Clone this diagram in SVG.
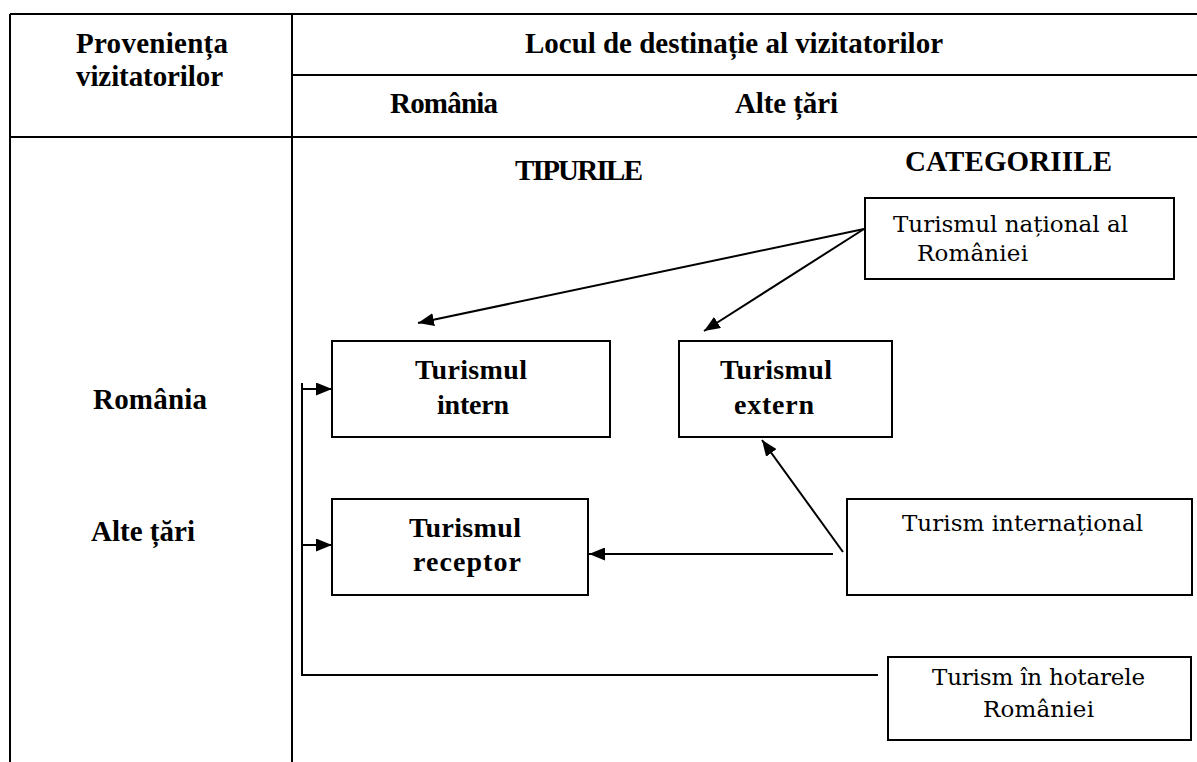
<svg xmlns="http://www.w3.org/2000/svg" width="1197" height="762" viewBox="0 0 1197 762">
<defs>
<style>
.ln{stroke:#000;stroke-width:2;fill:none}
.bx{stroke:#000;stroke-width:2;fill:#fff}
.hb{font-family:"Liberation Serif","Times New Roman",serif;font-weight:bold;font-size:29px;fill:#000}
.nb{font-family:"Liberation Serif","Times New Roman",serif;font-weight:bold;font-size:28px;fill:#000;text-anchor:middle}
.rg{font-family:"DejaVu Serif","Liberation Serif",serif;font-size:23px;fill:#000}
.cn{stroke:#000;stroke-width:2;fill:none}
</style>
<marker id="ah" viewBox="0 0 16 13" refX="16" refY="6.5" markerWidth="16" markerHeight="13" markerUnits="userSpaceOnUse" orient="auto">
<path d="M0,0 L16,6.5 L0,13 z" fill="#000"/>
</marker>
</defs>
<rect width="1197" height="762" fill="#fff"/>
<g id="table">
<line class="ln" x1="10" y1="14" x2="1197" y2="14"/>
<line class="ln" x1="10" y1="14" x2="10" y2="762"/>
<line class="ln" x1="292" y1="14" x2="292" y2="762"/>
<line class="ln" x1="292" y1="75" x2="1197" y2="75"/>
<line class="ln" x1="10" y1="137" x2="1197" y2="137"/>
<text class="hb" x="76" y="53" textLength="152">Proveniența</text>
<text class="hb" x="76" y="86" textLength="147">vizitatorilor</text>
<text class="hb" x="525" y="53" textLength="418">Locul de destinație al vizitatorilor</text>
<text class="hb" x="390" y="113" textLength="108">România</text>
<text class="hb" x="735" y="113" textLength="103">Alte țări</text>
<text class="hb" x="515" y="180" textLength="128">TIPURILE</text>
<text class="hb" x="905" y="171" textLength="207">CATEGORIILE</text>
<text class="hb" x="93" y="409" textLength="114">România</text>
<text class="hb" x="91" y="541" textLength="104">Alte țări</text>
</g>
<g id="connectors">
<line class="cn" x1="864" y1="229" x2="418" y2="323" marker-end="url(#ah)"/>
<line class="cn" x1="864" y1="229" x2="704" y2="331" marker-end="url(#ah)"/>
<line class="cn" x1="843" y1="552" x2="762" y2="440" marker-end="url(#ah)"/>
<line class="cn" x1="833" y1="554" x2="589" y2="554" marker-end="url(#ah)"/>
<polyline class="cn" points="878,675 302,675 302,383"/>
<line class="cn" x1="302" y1="389" x2="332" y2="389" marker-end="url(#ah)"/>
<line class="cn" x1="302" y1="545" x2="332" y2="545" marker-end="url(#ah)"/>
</g>
<g id="node-intern">
<rect class="bx" x="332" y="341" width="278" height="96"/>
<text class="nb" x="471" y="379" textLength="112">Turismul</text>
<text class="nb" x="473" y="414" textLength="72">intern</text>
</g>
<g id="node-extern">
<rect class="bx" x="679" y="341" width="213" height="96"/>
<text class="nb" x="776" y="379" textLength="112">Turismul</text>
<text class="nb" x="774" y="414" textLength="80">extern</text>
</g>
<g id="node-receptor">
<rect class="bx" x="332" y="499" width="256" height="96"/>
<text class="nb" x="465" y="537" textLength="112">Turismul</text>
<text class="nb" x="467" y="571" textLength="108">receptor</text>
</g>
<g id="node-national">
<rect class="bx" x="865" y="198" width="309" height="81"/>
<text class="rg" x="893" y="232" textLength="235">Turismul național al</text>
<text class="rg" x="917" y="261" textLength="111">României</text>
</g>
<g id="node-international">
<rect class="bx" x="847" y="499" width="345" height="96"/>
<text class="rg" x="902" y="531" textLength="241">Turism internațional</text>
</g>
<g id="node-hotarele">
<rect class="bx" x="888" y="657" width="303" height="83"/>
<text class="rg" x="932" y="685" textLength="213">Turism în hotarele</text>
<text class="rg" x="983" y="717" textLength="111">României</text>
</g>
</svg>
